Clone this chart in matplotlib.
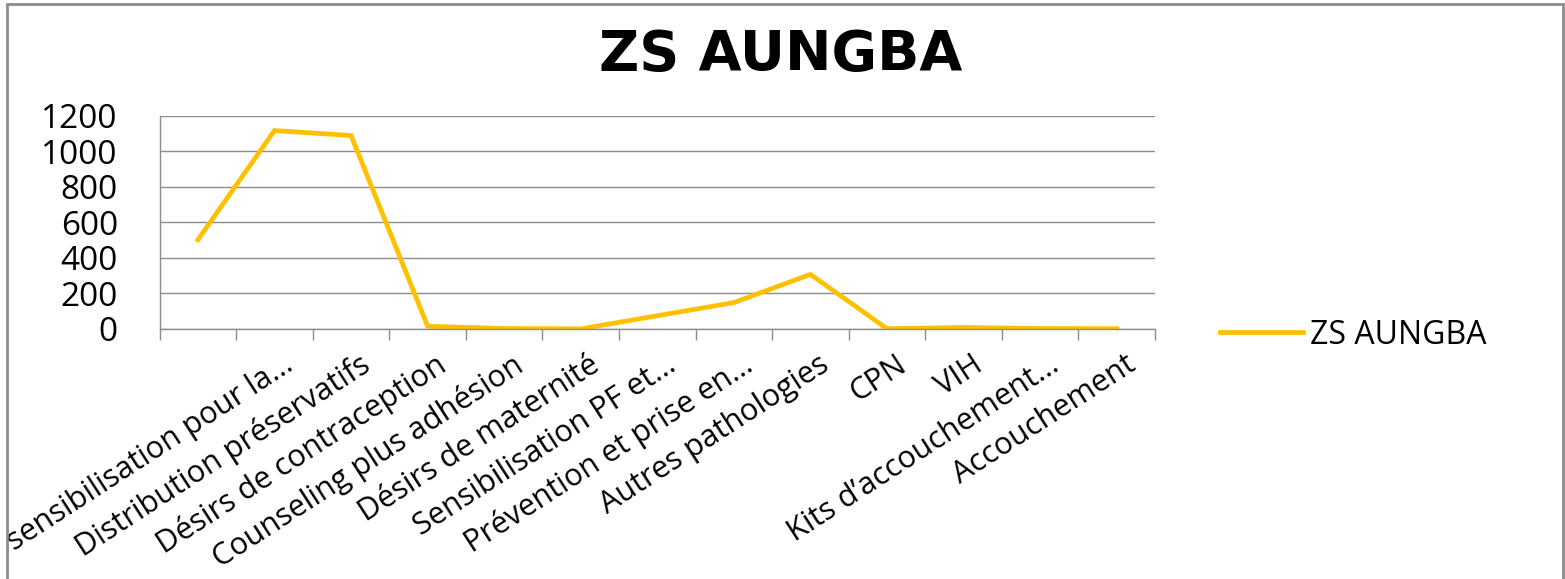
"""
ZS AUNGBA - courbe des activités
"""

import matplotlib.pyplot as plt
from matplotlib.patches import Rectangle
from matplotlib.transforms import ScaledTranslation

# Données
categories = ['', 'sensibilisation pour la...', 'Distribution préservatifs',
              'Désirs de contraception', 'Counseling plus adhésion',
              'Désirs de maternité', 'Sensibilisation PF et...',
              'Prévention et prise en...', 'Autres pathologies', 'CPN', 'VIH',
              'Kits d’accouchement...', 'Accouchement']
valeurs = [502, 1117, 1089, 15, 2, 0, 74, 148, 307, 1, 8, 2, 1]
y_ticks = [0, 200, 400, 600, 800, 1000, 1200]
serie = 'ZS AUNGBA'

plt.rcParams['font.family'] = ['Open Sans', 'DejaVu Sans']

fig = plt.figure(figsize=(15.65, 5.79), dpi=100)
ax = fig.add_axes([0.102, 0.432, 0.636, 0.368])

x = list(range(len(categories)))
ax.plot(x, valeurs, color='#FFC000', linewidth=3.4, label=serie, solid_joinstyle='miter')

ax.set_xlim(-0.5, len(categories) - 0.5)
ax.set_ylim(0, 1200)
ax.set_yticks(y_ticks)
ax.yaxis.grid(True, color='#8c8c8c', linewidth=1)
ax.set_axisbelow(True)

for s in ['top', 'right']:
    ax.spines[s].set_visible(False)
for s in ['left', 'bottom']:
    ax.spines[s].set_color('#8c8c8c')
    ax.spines[s].set_linewidth(1)

# graduations entre les catégories
ax.set_xticks([k - 0.5 for k in range(len(categories) + 1)], minor=True)
ax.tick_params(axis='x', which='minor', length=8, color='#8c8c8c', width=1)
ax.set_xticks(x)
ax.set_xticklabels(categories, rotation=33, ha='right', va='top',
                   rotation_mode='anchor', fontsize=22)
ax.tick_params(axis='x', which='major', length=0, pad=15)
for lab in ax.get_xticklabels():
    lab.set_transform(lab.get_transform() + ScaledTranslation(0.08, 0, fig.dpi_scale_trans))

ax.tick_params(axis='y', length=0, pad=30, labelsize=24)

fig.text(0.499, 0.905, 'ZS AUNGBA', ha='center', va='center', fontsize=40,
         fontweight='bold', family=['DejaVu Sans'])

fig.legend(loc='center left', bbox_to_anchor=(0.7796, 0.4214), frameon=False,
           fontsize=23, handlelength=2.6, handletextpad=0.2, borderpad=0,
           borderaxespad=0)

# cadre du graphique
fig.patches.append(Rectangle((7 / 1565, -0.05), 1556 / 1565, 1.05 - 4 / 579,
                             transform=fig.transFigure, fill=False,
                             edgecolor='#8c8c8c', linewidth=2))

fig.savefig('out.png', dpi=100)
